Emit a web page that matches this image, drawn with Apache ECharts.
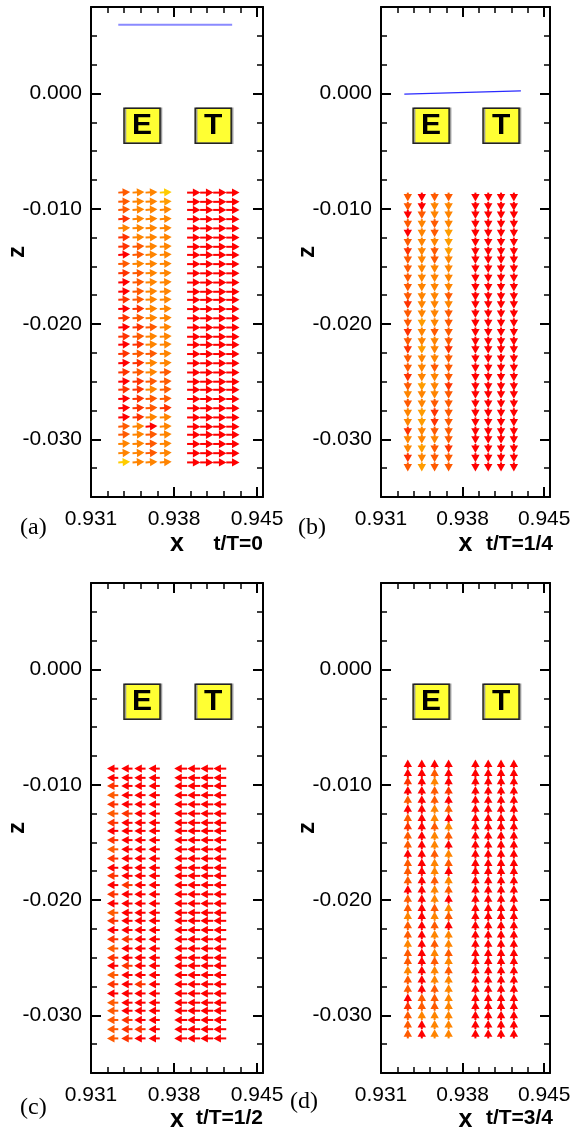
<!DOCTYPE html>
<html>
<head>
<meta charset="utf-8">
<script src="https://cdn.jsdelivr.net/npm/echarts@6/dist/echarts.min.js"></script>
<style>
html,body{margin:0;padding:0;background:#fff;}
#chart{width:576px;height:1132px;}
</style>
</head>
<body>
<div id="chart"></div>
<script>
// axis ranges and ticks
var xMin = 0.931, xMax = 0.9455;
var zMin = -0.035, zMax = 0.0075;
var xMajor = [0.931, 0.938, 0.945];
var xMinor = [0.9324, 0.9338, 0.9352, 0.9366, 0.9394, 0.9408, 0.9422, 0.9436];
var zMajor = [0, -0.01, -0.02, -0.03];
var zMinor = [0.005, 0.0025, -0.0025, -0.005, -0.0075, -0.0125, -0.015, -0.0175,
              -0.0225, -0.025, -0.0275, -0.0325];

// vector grid: columns in the E and T zones, rows from top to bottom
var xE = [0.9333, 0.9345, 0.9356, 0.9368];
var xT = [0.9391, 0.9402, 0.9413, 0.9424];
var zRows = [-0.0086, -0.0094, -0.0101, -0.0109, -0.0117, -0.0125, -0.0133, -0.0140,
             -0.0148, -0.0156, -0.0164, -0.0172, -0.0179, -0.0187, -0.0195, -0.0203,
             -0.0211, -0.0218, -0.0226, -0.0234, -0.0242, -0.0250, -0.0257, -0.0265,
             -0.0273, -0.0281, -0.0289, -0.0296, -0.0304, -0.0312, -0.0320];

var panelTags = ['(a)', '(b)', '(c)', '(d)'];
var phaseLabels = ['t/T=0', 't/T=1/4', 't/T=1/2', 't/T=3/4'];

// velocity vector (dx, dz) drawn at each point, per panel
var vecE = [[0.00100, 0.00006], [0, -0.00078], [-0.00095, 0], [0, 0.00080]];
var vecT = [[0.00112, 0], [0, -0.00078], [-0.00108, 0], [0, 0.00080]];

// colour level of each E-zone arrow (row by row, 4 columns), T zone all level 0
var levelColors = ['#ff0000', '#ff3300', '#ff5a00', '#ff8400', '#ff9c00', '#ffcc00'];
var shadeA = ["2335","2334","2333","1333","3333","1333","1233","0233","2333","1233","0233",
              "0233","1233","0133","1233","0123","1233","0133","1223","0133","1232","0122",
              "1132","0122","0121","0133","2303","2323","3323","3323","5333"];
var shadeB = ["2022","2033","0233","2323","0324","2334","1324","2323","2333","2333","2333",
              "2332","1333","2332","2432","1322","2332","1431","2332","2322","1332","2431",
              "3332","2322","3412","3412","1322","3332","3421","1322","2422"];
var shadeC = ["0000","0000","1000","2000","1000","2100","1000","0000","1000","2000","1000",
              "0000","1000","0100","1000","0000","2000","1000","0000","1100","2000","1000",
              "0100","2000","1010","0000","2000","2000","2100","2110","2100"];
var shadeD = ["0000","0020","1030","0021","2020","0032","2030","1023","2032","2030","0023",
              "2032","2030","2023","0032","2030","2023","3032","2020","2033","3023","2032",
              "2023","3032","2033","2023","0223","1223","2333","2033","2033"];
var shades = [shadeA, shadeB, shadeC, shadeD];

// free surface lines (panels a and b)
var surfaceA = [[0.9333, 0.00596], [0.9429, 0.00596]];
var surfaceB = [[0.9330, -0.00005], [0.9430, 0.00022]];

// E / T tag boxes
var boxE = [0.9353, -0.0028];
var boxT = [0.9413, -0.0028];

var rects = [[91, 7, 172, 490], [381, 7, 169, 490], [91, 583, 172, 490], [381, 583, 169, 490]];

var chart = echarts.init(document.getElementById('chart'));

function renderArrow(params, api) {
  var p0 = api.coord([api.value(0), api.value(1)]);
  var p1 = api.coord([api.value(0) + api.value(2), api.value(1) + api.value(3)]);
  var dx = p1[0] - p0[0], dy = p1[1] - p0[1];
  var len = Math.sqrt(dx * dx + dy * dy) || 1;
  var ux = dx / len, uy = dy / len;
  var hl = 7.5, hw = 4.2;
  var bx = p1[0] - ux * hl, by = p1[1] - uy * hl;
  var c = levelColors[api.value(4)];
  return {
    type: 'group',
    children: [
      {type: 'line', shape: {x1: p0[0], y1: p0[1], x2: bx + ux, y2: by + uy},
       style: {stroke: c, lineWidth: 2}},
      {type: 'polygon',
       shape: {points: [[p1[0], p1[1]], [bx - uy * hw, by + ux * hw], [bx + uy * hw, by - ux * hw]]},
       style: {fill: c}}
    ]
  };
}

var labelFont = {color: '#000', fontSize: 21, fontFamily: 'Liberation Sans'};

var grids = [], xAxes = [], yAxes = [], series = [], graphics = [];

rects.forEach(function (r, p) {
  // main grid + overlay grid for minor ticks
  for (var g = 0; g < 2; g++) {
    grids.push({left: r[0], top: r[1], width: r[2], height: r[3],
                containLabel: false, outerBoundsMode: 'none'});
  }
  var gMain = 2 * p, gMinor = 2 * p + 1;

  ['bottom', 'top'].forEach(function (pos) {
    xAxes.push({
      type: 'value', gridIndex: gMain, position: pos, min: xMin, max: xMax,
      axisLine: {show: true, onZero: false, lineStyle: {color: '#000', width: 2}},
      axisTick: {show: true, inside: true, length: 10, customValues: xMajor,
                 lineStyle: {color: '#000', width: 2}},
      axisLabel: Object.assign({show: pos === 'bottom', customValues: xMajor, margin: 12,
                 formatter: function (v) { return v.toFixed(3); }}, labelFont),
      splitLine: {show: false},
      name: pos === 'bottom' ? 'x' : '',
      nameLocation: 'middle', nameGap: 35, nameMoveOverlap: false,
      nameTextStyle: {color: '#000', fontSize: 25, fontWeight: 'bold',
                      fontFamily: 'Liberation Sans'}
    });
    xAxes.push({
      type: 'value', gridIndex: gMinor, position: pos, min: xMin, max: xMax,
      axisLine: {show: false, onZero: false},
      axisTick: {show: true, inside: true, length: 6, customValues: xMinor,
                 lineStyle: {color: '#000', width: 1.5}},
      axisLabel: {show: false}, splitLine: {show: false}
    });
  });

  ['left', 'right'].forEach(function (pos) {
    yAxes.push({
      type: 'value', gridIndex: gMain, position: pos, min: zMin, max: zMax,
      axisLine: {show: true, onZero: false, lineStyle: {color: '#000', width: 2}},
      axisTick: {show: true, inside: true, length: 10, customValues: zMajor,
                 lineStyle: {color: '#000', width: 2}},
      axisLabel: Object.assign({show: pos === 'left', customValues: zMajor, margin: 9,
                 formatter: function (v) { return Math.abs(v) < 1e-9 ? '0.000' : v.toFixed(3); }}, labelFont),
      splitLine: {show: false},
      name: pos === 'left' ? 'z' : '',
      nameLocation: 'middle', nameGap: 62, nameRotate: 90, nameMoveOverlap: false,
      nameTextStyle: {color: '#000', fontSize: 24, fontWeight: 'bold', fontFamily: 'Liberation Sans'}
    });
    yAxes.push({
      type: 'value', gridIndex: gMinor, position: pos, min: zMin, max: zMax,
      axisLine: {show: false, onZero: false},
      axisTick: {show: true, inside: true, length: 6, customValues: zMinor,
                 lineStyle: {color: '#000', width: 1.5}},
      axisLabel: {show: false}, splitLine: {show: false}
    });
  });

  var xi = 4 * p, yi = 4 * p; // main bottom x / main left y

  // arrows
  var data = [];
  zRows.forEach(function (z, i) {
    xE.forEach(function (x, j) {
      data.push([x, z, vecE[p][0], vecE[p][1], +shades[p][i].charAt(j)]);
    });
    xT.forEach(function (x) {
      data.push([x, z, vecT[p][0], vecT[p][1], 0]);
    });
  });
  series.push({
    type: 'custom', xAxisIndex: xi, yAxisIndex: yi, data: data,
    renderItem: renderArrow, silent: true, animation: false, clip: true
  });

  if (p === 0 || p === 1) {
    series.push({
      type: 'line', xAxisIndex: xi, yAxisIndex: yi,
      data: p === 0 ? surfaceA : surfaceB, symbol: 'none', silent: true, animation: false,
      lineStyle: p === 0 ? {color: '#8a8aff', width: 2} : {color: '#2a2aff', width: 1.2}
    });
  }

  series.push({
    type: 'scatter', xAxisIndex: xi, yAxisIndex: yi, silent: true, animation: false,
    symbol: 'rect', symbolSize: [36, 35],
    itemStyle: {color: '#ffff33', borderColor: '#222', borderWidth: 1.5,
                shadowColor: '#999', shadowOffsetX: 1.5, shadowBlur: 0, opacity: 1},
    label: {show: true, position: 'inside', formatter: '{b}', color: '#000',
            fontSize: 30, fontWeight: 'bold', fontFamily: 'Liberation Sans'},
    data: [{name: 'E', value: boxE}, {name: 'T', value: boxT}]
  });

  var left = p % 2 === 0;
  var top = p < 2;
  graphics.push({
    type: 'text', left: left ? 20 : (top ? 298 : 290), top: top ? 516 : (p === 2 ? 1096 : 1090),
    style: {text: panelTags[p], fill: '#000', fontSize: 24, fontFamily: 'Liberation Serif'}
  });
  graphics.push({
    type: 'text', x: left ? 263 : 553, y: top ? 544 : 1118,
    style: {text: phaseLabels[p], fill: '#000', fontSize: 21, fontWeight: 'bold',
            fontFamily: 'Liberation Sans', align: 'right', verticalAlign: 'middle'}
  });
});

chart.setOption({
  backgroundColor: '#fff',
  animation: false,
  grid: grids,
  xAxis: xAxes,
  yAxis: yAxes,
  series: series,
  graphic: graphics
});
</script>
</body>
</html>
